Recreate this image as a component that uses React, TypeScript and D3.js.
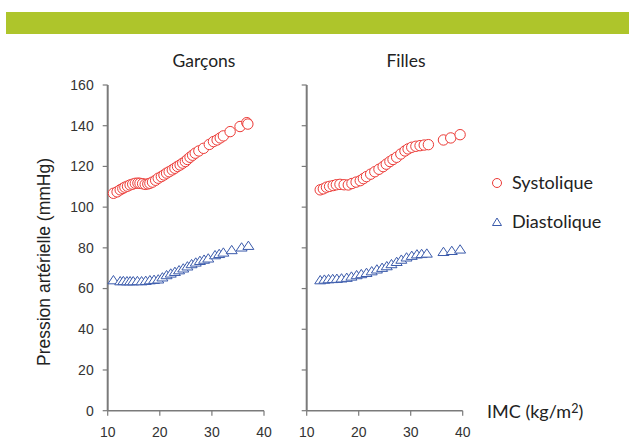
import React from "react";
import * as d3 from "d3";

// [IMC, valeur]
const boysSys: [number, number][] = [
  [11.1, 106.8], [11.8, 107.5], [12.4, 108.5], [12.9, 109.2], [13.3, 109.8],
  [13.8, 110.3], [14.3, 110.9], [14.8, 111.3], [15.3, 111.7], [15.8, 111.8],
  [16.2, 111.7], [16.7, 111.5], [17.2, 111.2], [17.7, 111.4], [18.1, 111.7],
  [18.6, 112.3], [19.2, 113.2], [19.7, 114.2], [20.3, 115.0], [20.8, 115.8],
  [21.3, 116.7], [21.8, 117.4], [22.4, 118.3], [22.9, 119.1], [23.4, 120.0],
  [23.9, 120.7], [24.4, 121.6], [24.9, 122.4], [25.3, 123.4], [25.8, 124.5],
  [26.3, 125.5], [26.8, 126.5], [27.5, 127.6], [28.4, 128.9], [29.5, 130.8],
  [30.3, 132.2], [31.0, 133.0], [31.6, 134.0], [32.2, 135.0], [33.5, 137.1],
  [35.4, 139.6], [36.7, 141.5], [36.9, 140.8],
];

const girlsSys: [number, number][] = [
  [12.6, 108.5], [13.2, 109.0], [13.8, 109.8], [14.4, 110.2], [15.1, 110.6],
  [15.7, 111.0], [16.4, 111.2], [17.2, 111.0], [18.0, 110.9], [18.7, 111.6],
  [19.5, 112.3], [20.3, 113.0], [20.9, 114.0], [21.5, 115.0], [22.3, 116.2],
  [23.1, 117.4], [23.9, 118.6], [24.7, 119.9], [25.3, 121.1], [26.0, 122.4],
  [26.6, 123.4], [27.3, 124.5], [28.1, 126.1], [28.9, 127.6], [29.5, 128.6],
  [30.2, 129.4], [31.0, 129.9], [31.8, 130.2], [32.6, 130.5], [33.4, 130.7],
  [36.3, 133.0], [37.7, 134.0], [39.5, 135.6],
];

const boysDia: [number, number][] = [
  [11.1, 64.2], [12.4, 63.7], [13.0, 63.8], [13.7, 63.7], [14.3, 63.7],
  [14.9, 63.7], [15.7, 63.8], [16.5, 63.7], [17.3, 63.9], [18.1, 64.2],
  [18.9, 64.4], [19.7, 64.6], [20.5, 65.6], [21.3, 66.7], [22.1, 67.5],
  [22.9, 68.3], [23.7, 69.1], [24.5, 70.0], [25.3, 71.0], [26.1, 72.1],
  [26.9, 72.9], [27.7, 73.7], [28.5, 74.3], [29.3, 74.9], [30.6, 76.5],
  [31.4, 77.1], [32.2, 77.8], [33.8, 79.0], [35.7, 80.3], [37.0, 81.1],
];

const girlsDia: [number, number][] = [
  [12.6, 64.2], [13.4, 64.5], [14.2, 64.7], [15.0, 64.8], [15.8, 64.9],
  [16.7, 65.1], [17.7, 65.4], [18.6, 66.0], [19.6, 66.7], [20.5, 67.2],
  [21.5, 67.8], [22.5, 68.6], [23.5, 69.5], [24.5, 70.3], [25.4, 71.1],
  [26.3, 72.1], [27.3, 73.2], [28.2, 74.3], [29.2, 75.4], [30.2, 76.2],
  [31.2, 76.9], [32.1, 77.1], [33.1, 77.3], [36.3, 78.1], [37.9, 78.6],
  [39.5, 79.3],
];

const yTicks = [0, 20, 40, 60, 80, 100, 120, 140, 160];
const xTicks = [10, 20, 30, 40];
const panelTitles = ["Garçons", "Filles"];

const RED = "#ec3a36";
const BLUE = "#3a5aab";
const AXIS = "#7a7a7a";
const SANS = "'Liberation Sans', Arial, sans-serif";
const HUMAN = "Lato, 'Open Sans', sans-serif";

const y = d3.scaleLinear().domain([0, 160]).range([410.7, 85]);
const xLeft = d3.scaleLinear().domain([10, 40]).range([107.7, 264]);
const xRight = d3.scaleLinear().domain([10, 40]).range([306.7, 462.7]);

const tri = "M0,-4.5 L5.5,3.8 L-5.5,3.8 Z";

function Panel({
  x,
  sys,
  dia,
  labels,
}: {
  x: d3.ScaleLinear<number, number>;
  sys: [number, number][];
  dia: [number, number][];
  labels: boolean;
}) {
  const x0 = x.range()[0];
  const x1 = x.range()[1];
  return (
    <g>
      <line x1={x0} x2={x0} y1={y(160)} y2={y(0)} stroke={AXIS} strokeWidth={2} />
      <line x1={x0} x2={x1} y1={y(0)} y2={y(0)} stroke={AXIS} strokeWidth={1.5} />
      {yTicks.map((t) => (
        <g key={t}>
          <line x1={x0 - 5} x2={x0} y1={y(t)} y2={y(t)} stroke={AXIS} strokeWidth={1.2} />
          {labels && (
            <text
              x={x0 - 14}
              y={y(t)}
              dy="0.35em"
              textAnchor="end"
              fontFamily={SANS}
              fontSize={14}
              fill="#333"
            >
              {t}
            </text>
          )}
        </g>
      ))}
      {xTicks.map((t) => (
        <g key={t}>
          <line x1={x(t)} x2={x(t)} y1={y(0)} y2={y(0) + 5} stroke={AXIS} strokeWidth={1.2} />
          <text
            x={x(t)}
            y={437}
            textAnchor="middle"
            fontFamily={SANS}
            fontSize={14}
            fill="#333"
          >
            {t}
          </text>
        </g>
      ))}
      {dia.map((d, i) => (
        <path
          key={"d" + i}
          d={tri}
          transform={`translate(${x(d[0])},${y(d[1])})`}
          fill="white"
          stroke={BLUE}
          strokeWidth={1}
        />
      ))}
      {sys.map((d, i) => (
        <circle
          key={"s" + i}
          cx={x(d[0])}
          cy={y(d[1])}
          r={5.2}
          fill="white"
          stroke={RED}
          strokeWidth={1}
        />
      ))}
    </g>
  );
}

export default function App() {
  return (
    <div style={{ position: "absolute", left: 0, top: 0 }}>
      <svg width={629} height={439} style={{ display: "block", background: "white" }}>
        <rect x={6} y={12} width={623} height={22} fill="#aec52b" />
        <text x={204} y={67} textAnchor="middle" fontFamily={HUMAN} fontSize={17.5} fill="#222">
          {panelTitles[0]}
        </text>
        <text x={406} y={67} textAnchor="middle" fontFamily={HUMAN} fontSize={17.5} fill="#222">
          {panelTitles[1]}
        </text>
        <text
          transform="translate(50,262) rotate(-90)"
          textAnchor="middle"
          fontFamily={SANS}
          fontSize={17.5}
          fill="#222"
        >
          Pression artérielle (mmHg)
        </text>
        <Panel x={xLeft} sys={boysSys} dia={boysDia} labels={true} />
        <Panel x={xRight} sys={girlsSys} dia={girlsDia} labels={false} />
        <circle cx={497} cy={183} r={4.5} fill="white" stroke={RED} strokeWidth={1} />
        <text x={512} y={189} fontFamily={HUMAN} fontSize={18} fill="#222">
          Systolique
        </text>
        <path d="M0,-4 L4.5,3.5 L-4.5,3.5 Z" transform="translate(497,222)" fill="white" stroke={BLUE} strokeWidth={1} />
        <text x={512} y={228} fontFamily={HUMAN} fontSize={18} fill="#222">
          Diastolique
        </text>
        <text x={487} y={418} fontFamily={HUMAN} fontSize={18} fill="#222">
          IMC (kg/m<tspan fontSize={12.5} dy={-5}>2</tspan>
          <tspan dy={5}>)</tspan>
        </text>
      </svg>
    </div>
  );
}
